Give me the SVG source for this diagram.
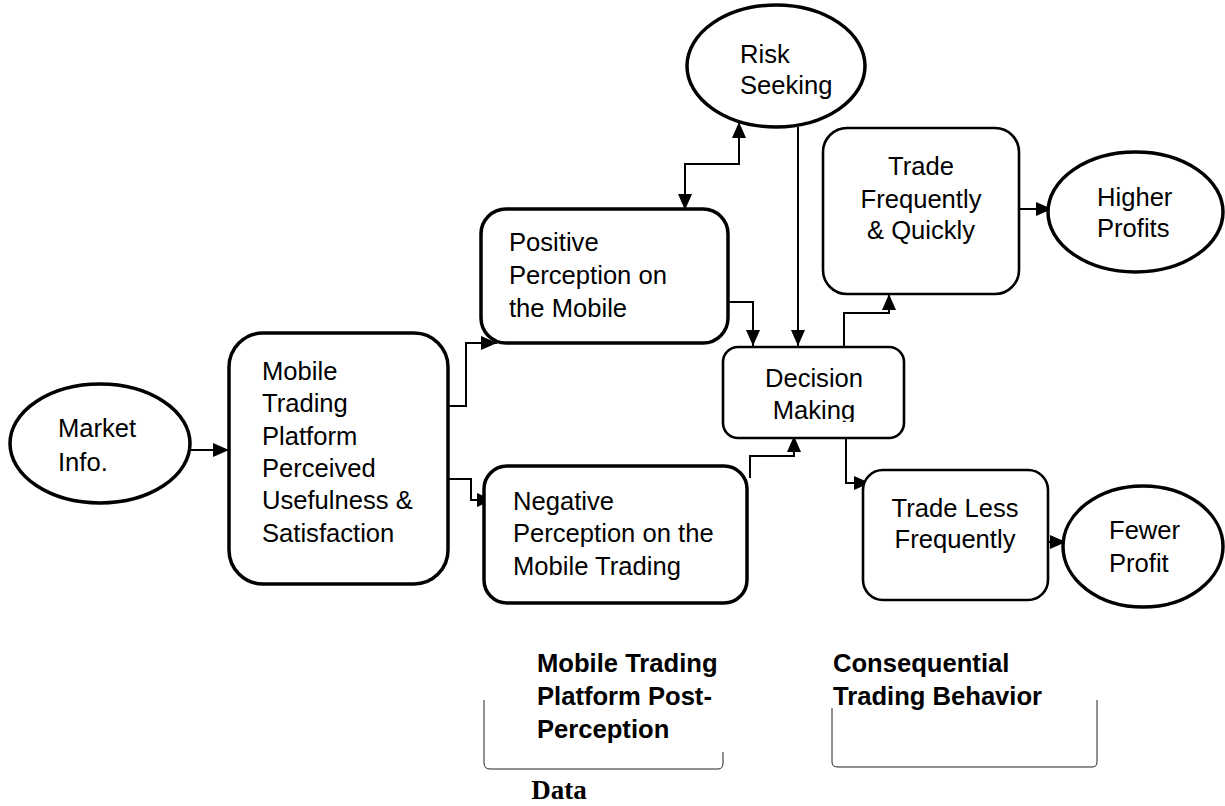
<svg xmlns="http://www.w3.org/2000/svg" width="1225" height="806" viewBox="0 0 1225 806">
<style>
text{font-family:"Liberation Sans",Arial,sans-serif;font-size:25.6px;fill:#000}
.thick{fill:#fff;stroke:#000;stroke-width:3.5}
.thin{fill:#fff;stroke:#000;stroke-width:2.6}
.c{fill:none;stroke:#000;stroke-width:2}
.mid{text-anchor:middle}
.b{font-weight:bold}
.br{fill:none;stroke:#222;stroke-width:1}
.data{font-family:"Liberation Serif","Times New Roman",serif;font-weight:bold;font-size:27px}
</style>
<defs>
<marker id="ah" markerUnits="userSpaceOnUse" markerWidth="16" markerHeight="14" refX="16" refY="7" orient="auto-start-reverse" viewBox="0 0 16 14">
<path d="M0,0 L16,7 L0,14 z" fill="#000"/>
</marker>
<clipPath id="clipMaking"><rect x="723" y="347" width="181" height="75"/></clipPath>
</defs>
<rect width="1225" height="806" fill="#fff"/>

<g id="connectors">
<path class="c" d="M190,450 H229" marker-end="url(#ah)"/>
<path class="c" d="M448,406 H466 V343 H497" marker-end="url(#ah)"/>
<path class="c" d="M448,479 H471 V500 H493" marker-end="url(#ah)"/>
<path class="c" d="M685,210 V164 H739 V122" marker-start="url(#ah)" marker-end="url(#ah)"/>
<path class="c" d="M728,302 H753 V346" marker-end="url(#ah)"/>
<path class="c" d="M798,127 V346" marker-end="url(#ah)"/>
<path class="c" d="M750,478 V456 H794 V436" marker-end="url(#ah)"/>
<path class="c" d="M844,346 V313 H889 V294" marker-end="url(#ah)"/>
<path class="c" d="M821,433 H846 V483 H870" marker-end="url(#ah)"/>
<path class="c" d="M1010,209 H1052" marker-end="url(#ah)"/>
<path class="c" d="M1040,542 H1066" marker-end="url(#ah)"/>
</g>

<g id="market-info">
<ellipse class="thick" cx="100" cy="443.5" rx="90" ry="59.5"/>
<text x="58" y="437">Market</text>
<text x="58" y="471">Info.</text>
</g>

<g id="mobile-platform">
<rect class="thick" x="229" y="333" width="219" height="251" rx="34" ry="34"/>
<text x="262" y="380">Mobile</text>
<text x="262" y="412">Trading</text>
<text x="262" y="445">Platform</text>
<text x="262" y="477">Perceived</text>
<text x="262" y="509">Usefulness &amp;</text>
<text x="262" y="542">Satisfaction</text>
</g>

<g id="positive">
<rect class="thick" x="481" y="209" width="247" height="134" rx="25" ry="25"/>
<text x="509" y="251">Positive</text>
<text x="509" y="284">Perception on</text>
<text x="509" y="317">the Mobile</text>
</g>

<g id="negative">
<rect class="thick" x="484" y="466" width="263" height="137" rx="23" ry="23"/>
<text x="513" y="510">Negative</text>
<text x="513" y="542">Perception on the</text>
<text x="513" y="575">Mobile Trading</text>
</g>

<g id="risk-seeking">
<ellipse class="thick" cx="776" cy="66" rx="89" ry="61"/>
<text x="740" y="63">Risk</text>
<text x="740" y="94">Seeking</text>
</g>

<g id="decision-making">
<rect class="thin" x="723" y="347" width="181" height="91" rx="15" ry="15"/>
<text class="mid" x="814" y="387">Decision</text>
<text class="mid" x="814" y="419" clip-path="url(#clipMaking)">Making</text>
</g>

<g id="trade-frequently">
<rect class="thin" x="823" y="128" width="196" height="166" rx="24" ry="24"/>
<text class="mid" x="921" y="175">Trade</text>
<text class="mid" x="921" y="208">Frequently</text>
<text class="mid" x="921" y="239">&amp; Quickly</text>
</g>

<g id="higher-profits">
<ellipse class="thick" cx="1135.5" cy="212" rx="87.5" ry="60"/>
<text x="1097" y="206">Higher</text>
<text x="1097" y="237">Profits</text>
</g>

<g id="trade-less">
<rect class="thin" x="863" y="470" width="185" height="130" rx="20" ry="20"/>
<text class="mid" x="955" y="517">Trade Less</text>
<text class="mid" x="955" y="548">Frequently</text>
</g>

<g id="fewer-profit">
<ellipse class="thick" cx="1143" cy="546.5" rx="80" ry="60.5"/>
<text x="1109" y="539">Fewer</text>
<text x="1109" y="572">Profit</text>
</g>

<g id="post-perception-label">
<path class="br" d="M484,700 V763 Q484,769 490,769 H718 Q723,769 723,763 V752"/>
<text class="b" x="537" y="672">Mobile Trading</text>
<text class="b" x="537" y="705">Platform Post-</text>
<text class="b" x="537" y="738">Perception</text>
<text class="data mid" x="559" y="799">Data</text>
</g>

<g id="behavior-label">
<path class="br" d="M832,708 V762 Q832,767 838,767 H1092 Q1097,767 1097,762 V700"/>
<text class="b" x="833" y="672">Consequential</text>
<text class="b" x="833" y="705">Trading Behavior</text>
</g>
</svg>
